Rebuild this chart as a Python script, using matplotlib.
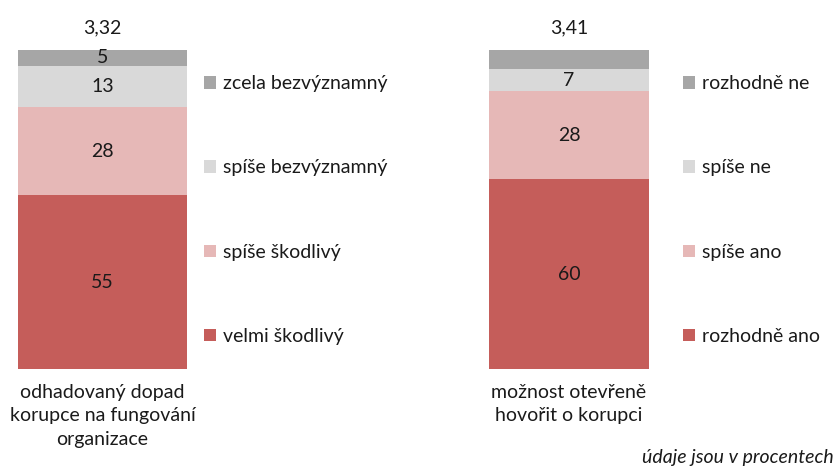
import matplotlib
matplotlib.use("Agg")
import matplotlib.pyplot as plt
from matplotlib.patches import Patch

plt.rcParams['font.family'] = ['Lato', 'DejaVu Sans']

# ---- data ----
categories = ["odhadovaný dopad\nkorupce na fungování\norganizace",
              "možnost otevřeně\nhovořit o korupci"]
means = [3.32, 3.41]
# segments bottom -> top
left_names = ["velmi škodlivý", "spíše škodlivý", "spíše bezvýznamný", "zcela bezvýznamný"]
left_values = [55, 28, 13, 5]
left_labels = ["55", "28", "13", "5"]
right_names = ["rozhodně ano", "spíše ano", "spíše ne", "rozhodně ne"]
right_values = [60, 28, 7, 6]
right_labels = ["60", "28", "7", ""]
colors = ["#C55D5A", "#E6B8B7", "#D9D9D9", "#A6A6A6"]
note = "údaje jsou v procentech"

FS = 14
TXT = '#1a1a1a'

fig = plt.figure(figsize=(8.38, 4.66), dpi=100)
W, H = 838, 466

def make(ax_rect, names, values, labels, cat, mean, leg_x):
    ax = fig.add_axes(ax_rect)
    total = sum(values)
    bottom = 0
    for v, c, lab in zip(values, colors, labels):
        ax.bar(0, v, bottom=bottom, width=1.0, color=c, edgecolor='none')
        if lab:
            ax.text(0, bottom + v / 2, lab, ha='center', va='center', fontsize=FS, color=TXT)
        bottom += v
    ax.set_xlim(-0.5, 0.5)
    ax.set_ylim(0, total)
    ax.axis('off')
    ax.text(0.5, 1.0 + 22 / (ax_rect[3] * H), f"{mean:.2f}".replace('.', ','),
            transform=ax.transAxes, ha='center', va='center', fontsize=FS, color=TXT)
    ax.text(0.5, -15 / (ax_rect[3] * H), cat, transform=ax.transAxes, ha='center', va='top',
            fontsize=FS, color=TXT, linespacing=1.45)
    handles = [Patch(facecolor=c, edgecolor='none', label=n) for n, c in zip(names, colors)][::-1]
    fig.legend(handles=handles, loc='center left', bbox_to_anchor=(leg_x, 1 - 210 / H),
               frameon=False, fontsize=FS, handlelength=0.6, handleheight=0.6,
               handletextpad=0.4, labelspacing=3.45, borderpad=0, borderaxespad=0,
               labelcolor=TXT)
    return ax

make([18 / W, 1 - 369 / H, 169 / W, 319 / H], left_names, left_values, left_labels,
     categories[0], means[0], 204 / W)
make([489 / W, 1 - 369 / H, 160 / W, 319 / H], right_names, right_values, right_labels,
     categories[1], means[1], 683 / W)

fig.text(834 / W, 1 - 457 / H, note, ha='right', va='center', fontsize=FS,
         style='italic', color=TXT)

fig.savefig("out.png", dpi=100)
